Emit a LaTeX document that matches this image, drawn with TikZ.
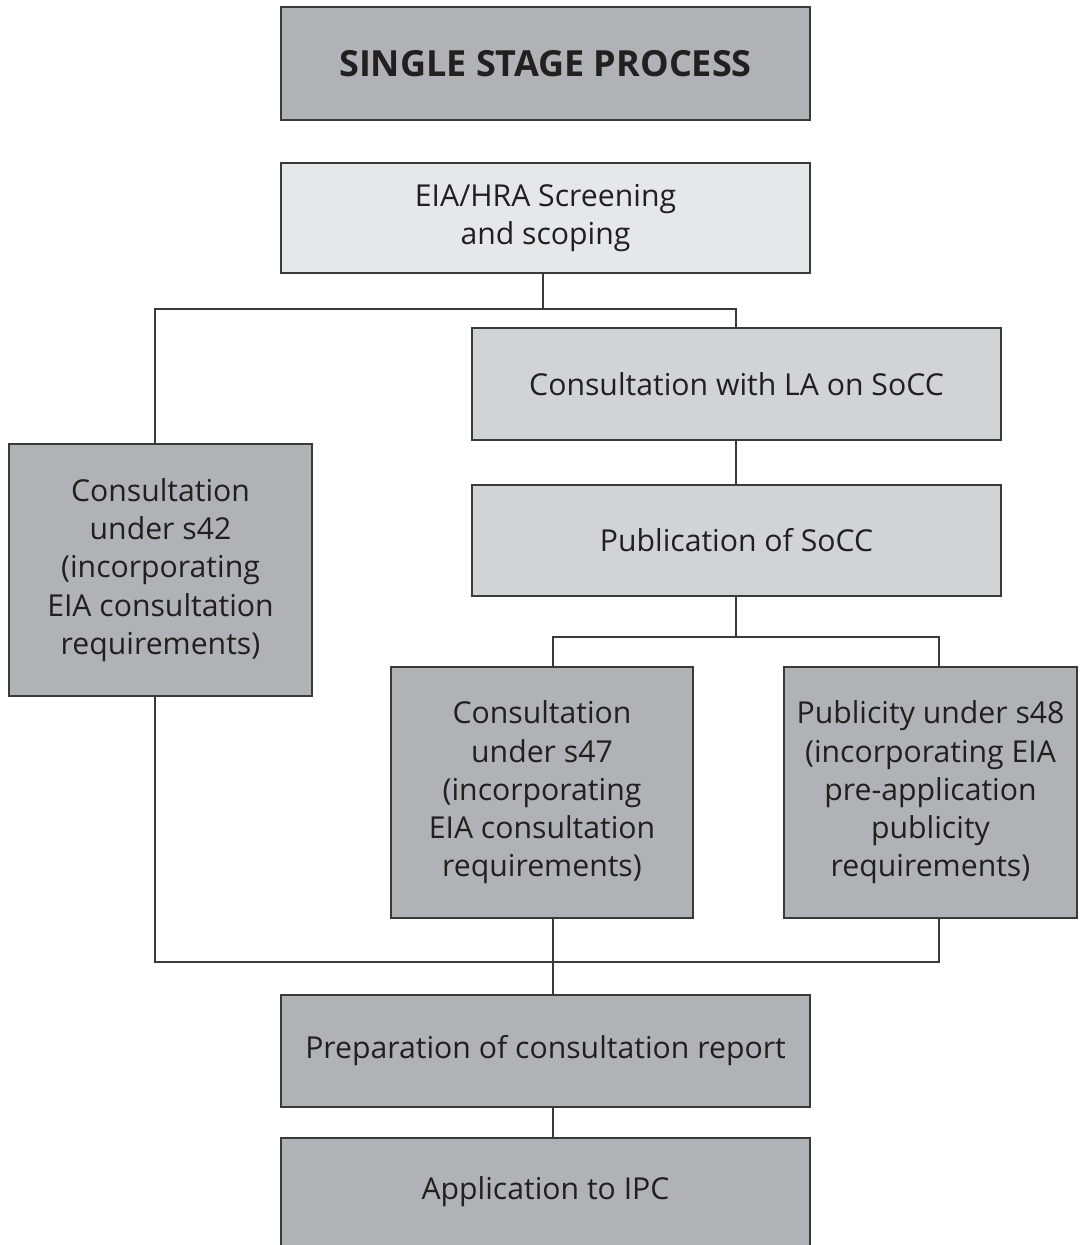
\documentclass[tikz,border=0pt]{standalone}
\usepackage{fontspec}
\setmainfont{Open Sans}
\definecolor{darkbox}{HTML}{B1B2B5}
\definecolor{midbox}{HTML}{D1D3D4}
\definecolor{lightbox}{HTML}{E6E7E8}
\definecolor{linec}{HTML}{3A3A3A}
\definecolor{textc}{HTML}{231F20}
\begin{document}
\begin{tikzpicture}[x=1pt,y=-1pt,
  box/.style={draw=linec, line width=1.8pt, inner sep=0pt, align=center, text=textc,
    font=\fontsize{30.2}{38.3}\selectfont},
  wide/.style={box, minimum width=529pt, minimum height=111pt},
  tall/.style={box, minimum height=251pt},
  conn/.style={draw=linec, line width=1.8pt}]
\useasboundingbox (0,0) rectangle (1080,1245);
\fill[white] (0,0) rectangle (1080,1245);
% boxes
\node[wide, fill=darkbox, minimum height=113pt, font=\fontsize{36}{40}\selectfont\bfseries] (title) at (545.5,63.5) {SINGLE STAGE PROCESS};
\node[wide, fill=lightbox, minimum height=110pt] (eia) at (545.5,218) {EIA/HRA Screening\\and scoping};
\node[wide, fill=midbox, minimum height=112pt] (la) at (736.5,384) {Consultation with LA on SoCC};
\node[wide, fill=midbox] (pub) at (736.5,540.5) {Publication of SoCC};
\node[tall, fill=darkbox, minimum width=303pt, minimum height=252pt] (s42) at (160.5,570) {Consultation\\under s42\\(incorporating\\EIA consultation\\requirements)};
\node[tall, fill=darkbox, minimum width=302pt] (s47) at (542,792.5) {Consultation\\under s47\\(incorporating\\EIA consultation\\requirements)};
\node[tall, fill=darkbox, minimum width=293pt] (s48) at (930.5,792.5) {Publicity under s48\\(incorporating EIA\\pre-application\\publicity\\requirements)};
\node[wide, fill=darkbox, minimum height=112pt] (prep) at (545.5,1051) {Preparation of consultation report};
\node[wide, fill=darkbox, minimum height=108pt] (ipc) at (545.5,1192) {Application to IPC};
% junction coordinates
\coordinate (j1) at (543,309);
\coordinate (jl) at (155,309);
\coordinate (jr) at (736,309);
\coordinate (k1) at (736,637);
\coordinate (kl) at (553,637);
\coordinate (kr) at (939,637);
\coordinate (ml) at (155,962);
\coordinate (mc) at (553,962);
\coordinate (mr) at (939,962);
% connectors
\draw[conn] (eia.south -| j1) -- (j1);
\draw[conn] (s42.north -| jl) -- (jl) -- (jr) -- (la.north -| jr);
\draw[conn] (la.south -| jr) -- (pub.north -| jr);
\draw[conn] (pub.south -| k1) -- (k1);
\draw[conn] (s47.north -| kl) -- (kl) -- (kr) -- (s48.north -| kr);
\draw[conn] (s42.south -| ml) -- (ml) -- (mr) -- (s48.south -| mr);
\draw[conn] (s47.south -| mc) -- (prep.north -| mc);
\draw[conn] (prep.south -| mc) -- (ipc.north -| mc);
\end{tikzpicture}
\end{document}
